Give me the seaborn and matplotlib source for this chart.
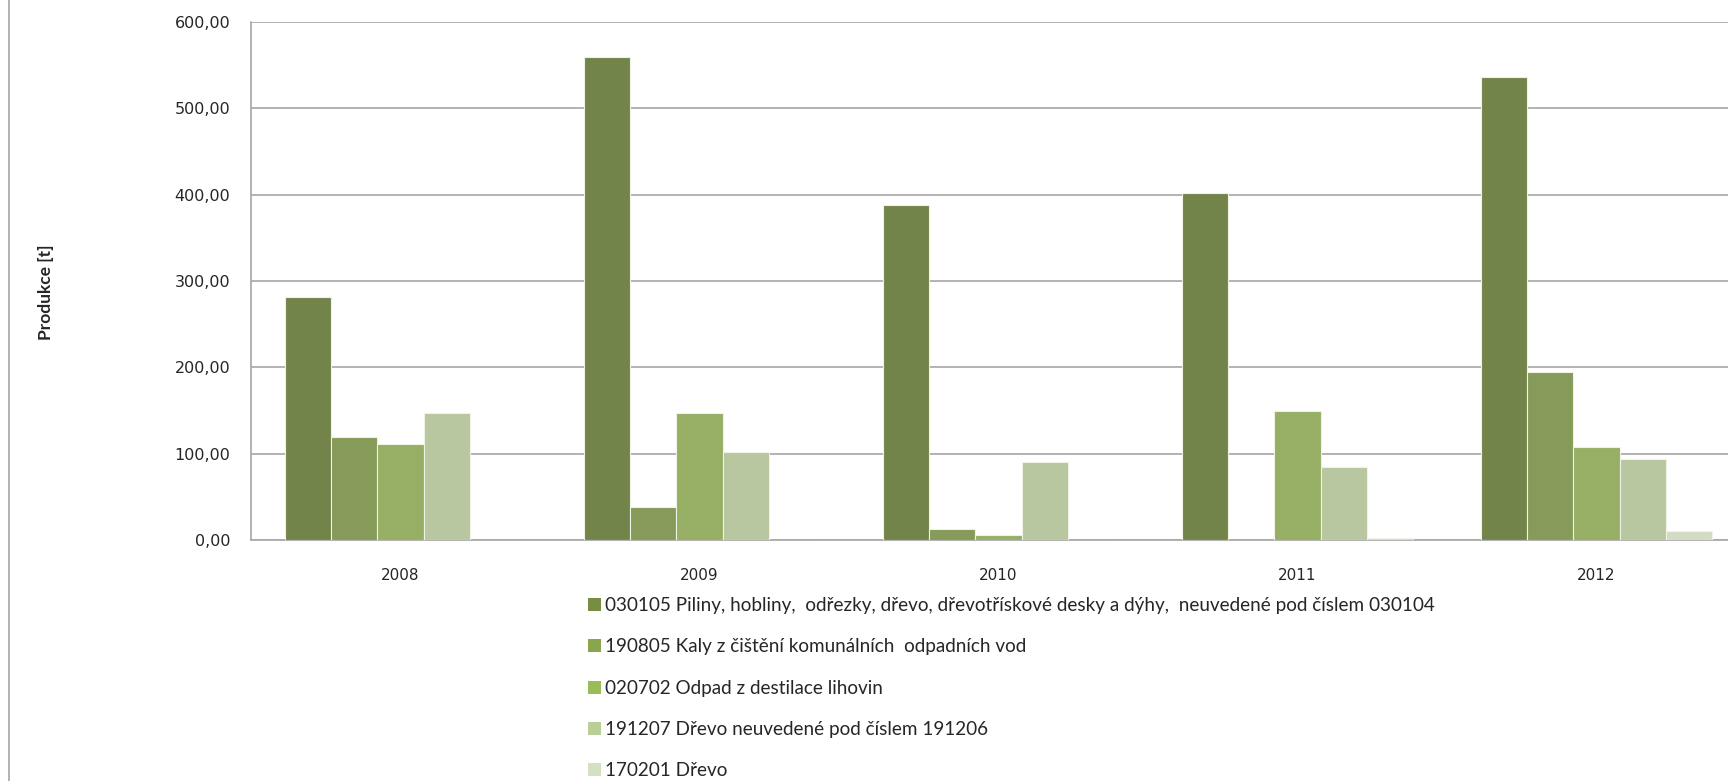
import numpy as np
import pandas as pd
import matplotlib.pyplot as plt
import matplotlib.ticker as mticker
from matplotlib.patches import Patch
import seaborn as sns

# -------------------- DATA --------------------
years = ["2008", "2009", "2010", "2011", "2012"]
series_names = [
    "030105 Piliny, hobliny,  odřezky, dřevo, dřevotřískové desky a dýhy,  neuvedené pod číslem 030104",
    "190805 Kaly z čištění komunálních  odpadních vod",
    "020702 Odpad z destilace lihovin",
    "191207 Dřevo neuvedené pod číslem 191206",
    "170201 Dřevo",
]
piliny = [281, 560, 388, 402, 536]
kaly = [119, 38, 13, 0, 195]
lihoviny = [111, 147, 6, 149, 108]
drevo_191207 = [147, 102, 90, 85, 94]
drevo_170201 = [0, 0, 0, 2, 11]
colors = ["#778D42", "#8AA54E", "#9BBB59", "#BACE98", "#D3E0C1"]

values = [piliny, kaly, lihoviny, drevo_191207, drevo_170201]
df = pd.DataFrame({
    "Rok": np.repeat([years], len(series_names), axis=0).ravel(),
    "Odpad": np.repeat(series_names, len(years)),
    "Produkce": np.concatenate(values),
})

# -------------------- PLOT --------------------
sns.set_style("white")
plt.rcParams["font.family"] = ["DejaVu Sans"]

fig = plt.figure(figsize=(17.28, 7.81), dpi=100)
ax = fig.add_axes([251 / 1728, 1 - 540 / 781, (1746 - 251) / 1728, (540 - 22) / 781])

sns.barplot(data=df, x="Rok", y="Produkce", hue="Odpad", order=years,
            hue_order=series_names, palette=colors, width=0.775,
            edgecolor="#EEF3E6", linewidth=0.8, legend=False, ax=ax, zorder=3)

ax.set_ylim(0, 600)
ax.set_xlim(-0.5, 4.5)
ax.yaxis.set_major_locator(mticker.MultipleLocator(100))
ax.yaxis.set_major_formatter(mticker.FuncFormatter(lambda v, p: f"{v:.2f}".replace(".", ",")))
ax.grid(axis="y", color="#A6A6A6", linewidth=1.2, zorder=0)
ax.set_axisbelow(True)

for s in ["top", "right"]:
    ax.spines[s].set_visible(False)
for s in ["left", "bottom"]:
    ax.spines[s].set_color("#A6A6A6")
    ax.spines[s].set_linewidth(1.2)

ax.tick_params(axis="y", length=6, color="#A6A6A6", width=1.2, labelsize=11.5, pad=9)
ax.tick_params(axis="x", which="major", length=0, labelsize=11, pad=20)
ax.set_xticks(np.arange(-0.5, 5, 1), minor=True)
ax.tick_params(axis="x", which="minor", length=6, color="#A6A6A6", width=1.2)

ax.set_xlabel("")
ax.set_ylabel("")
fig.text(46 / 1728, 1 - 292 / 781, "Produkce [t]", rotation=90, ha="center", va="center",
         fontsize=12.5, fontweight="bold", family="Lato")

# legend below the plot
handles = [Patch(facecolor=c, edgecolor="none") for c in colors]
fig.legend(handles, series_names, loc="upper left", bbox_to_anchor=(588 / 1728, 1 - 597 / 781),
           frameon=False, ncol=1, handlelength=0.68, handleheight=0.68,
           handletextpad=0.2, labelspacing=1.29, borderaxespad=0, borderpad=0,
           prop={"family": "Lato", "size": 13.6})

# thin frame line at the left edge
fig.add_artist(plt.Line2D([9 / 1728, 9 / 1728], [0, 1], color="#A6A6A6", linewidth=1.2))

fig.savefig("out.png", dpi=100)
